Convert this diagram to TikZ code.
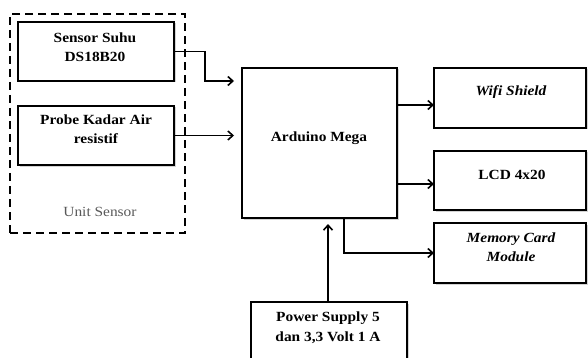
\documentclass[tikz,border=0pt]{standalone}
\usepackage{fontspec}
\setmainfont{Liberation Serif}[FakeStretch=1.1]
\usetikzlibrary{arrows.meta,shadows}
\begin{document}
\begin{tikzpicture}[x=1pt,y=-1pt,
  box/.style={draw=black,line width=1.6pt,rectangle,inner sep=0,outer sep=0,fill=white,
    drop shadow={shadow xshift=1.5pt,shadow yshift=-1.5pt,opacity=0.35}},
  lbl/.style={align=center,font=\fontsize{14}{19.5}\selectfont\bfseries},
  arr/.style={line width=1.6pt,-{Straight Barb[length=5pt,width=9pt,line width=1.6pt]}},
  dashbox/.style={draw=black,line width=2pt,dash pattern=on 8pt off 5pt,rectangle,inner sep=0,outer sep=0}]
\useasboundingbox (0,0) rectangle (588,358);
\clip (0,0) rectangle (588,358);
\node[dashbox,minimum width=175pt,minimum height=219pt] (unit) at (97.5,123.5) {};
\node[box,minimum width=156pt,minimum height=59pt] (suhu) at (96,51.5) {};
\node[box,minimum width=156pt,minimum height=59pt] (probe) at (96,135.5) {};
\node[box,line width=2.2pt,minimum width=155pt,minimum height=150pt] (ard) at (319.5,143) {};
\node[box,minimum width=152pt,minimum height=60pt] (wifi) at (510,98) {};
\node[box,minimum width=152pt,minimum height=59pt] (lcd) at (510,180.5) {};
\node[box,minimum width=152pt,minimum height=60pt] (mem) at (510,253) {};
\node[box,minimum width=156pt,minimum height=68pt] (power) at (329,336) {};
\node[lbl] (tsuhu) at (95,47) {Sensor Suhu\\DS18B20};
\node[lbl] (tprobe) at (96,129) {Probe Kadar Air\\resistif};
\node[align=center,font=\fontsize{14}{17}\selectfont,text=black!65] (tunit) at (100,212) {Unit Sensor};
\node[lbl] (tard) at (319,138) {Arduino Mega};
\node[lbl,font=\fontsize{14}{19.5}\selectfont\bfseries\itshape] (twifi) at (511,92) {Wifi Shield};
\node[lbl] (tlcd) at (512,175) {LCD 4x20};
\node[lbl,font=\fontsize{14}{18.5}\selectfont\bfseries\itshape] (tmem) at (511,247) {Memory Card\\Module};
\node[lbl] (tpower) at (328,327.5) {Power Supply 5\\dan 3,3 Volt 1 A};
\coordinate (wifiin) at ([yshift=-7pt]wifi.west);
\coordinate (lcdin) at ([yshift=-3.5pt]lcd.west);
\draw[arr,shorten >=8pt] (suhu.east) -- ++(31,0) |- (suhu.south -| ard.west);
\draw[arr,shorten >=8pt] (probe.east) -- (probe.east -| ard.west);
\draw[arr] (ard.east |- wifiin) -- (wifiin);
\draw[arr] (ard.east |- lcdin) -- (lcdin);
\draw[arr] ([xshift=24.5pt]ard.south) |- (mem.west);
\draw[arr,shorten >=6pt] ([xshift=-1pt]power.north) -- ([xshift=-1pt]power.north |- ard.south);
\end{tikzpicture}
\end{document}
